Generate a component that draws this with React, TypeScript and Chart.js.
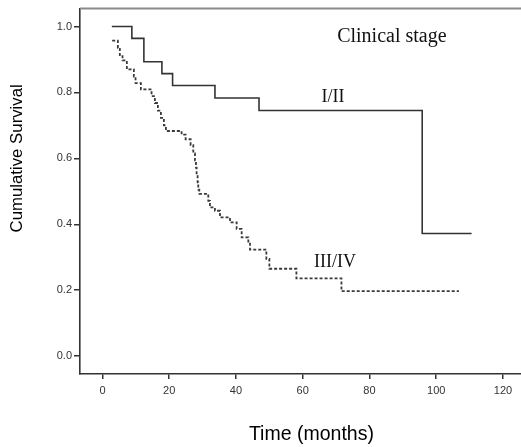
import React, { useEffect, useRef } from "react";
import { Chart, registerables } from "chart.js";

Chart.register(...registerables);

// Kaplan-Meier curve, stage I/II (time in months, cumulative survival)
const stage12Time = [2.8, 8.8, 12.4, 17.8, 21.0, 33.7, 46.9, 95.8, 110.6];
const stage12Surv = [1.0, 0.964, 0.893, 0.857, 0.821, 0.783, 0.745, 0.372, 0.372];

// Kaplan-Meier curve, stage III/IV
const stage34Time = [
  2.9, 4.6, 5.2, 6.0, 7.3, 9.4, 9.9, 11.5, 14.7, 15.7, 16.6, 17.5, 18.4, 19.0,
  23.7, 24.9, 26.4, 27.2, 27.7, 28.0, 28.2, 28.5, 28.7, 29.0, 31.7, 32.2, 33.7,
  35.2, 38.2, 40.2, 41.7, 43.7, 44.2, 49.1, 50.0, 58.1, 71.6, 106.8,
];
const stage34Surv = [
  0.957, 0.935, 0.913, 0.897, 0.87, 0.848, 0.828, 0.809, 0.789, 0.768, 0.745,
  0.723, 0.7, 0.683, 0.672, 0.658, 0.64, 0.615, 0.594, 0.572, 0.55, 0.527,
  0.505, 0.492, 0.471, 0.451, 0.441, 0.421, 0.406, 0.386, 0.36, 0.341, 0.323,
  0.295, 0.265, 0.236, 0.197, 0.197,
];

const xTicks = [0, 20, 40, 60, 80, 100, 120];
const yTicks = [0.0, 0.2, 0.4, 0.6, 0.8, 1.0];

const chartTitle = "Clinical stage";
const label12 = "I/II";
const label34 = "III/IV";
const xTitle = "Time (months)";
const yTitle = "Cumulative Survival";

const annotationPlugin = {
  id: "kmAnnotations",
  afterDraw(chart: any) {
    const ctx = chart.ctx;
    const xs = chart.scales.x;
    const ys = chart.scales.y;
    const area = chart.chartArea;
    ctx.save();
    // top border
    ctx.strokeStyle = "#8a8a8a";
    ctx.lineWidth = 2;
    ctx.beginPath();
    ctx.moveTo(area.left, area.top);
    ctx.lineTo(area.right, area.top);
    ctx.stroke();

    ctx.fillStyle = "#111";
    ctx.textAlign = "center";
    ctx.textBaseline = "middle";
    ctx.font = '20px "Liberation Serif", "Times New Roman", serif';
    ctx.fillText(chartTitle, xs.getPixelForValue(86.7), ys.getPixelForValue(0.97));
    ctx.font = '18px "Liberation Serif", "Times New Roman", serif';
    ctx.fillText(label12, xs.getPixelForValue(69.1), ys.getPixelForValue(0.784));
    ctx.fillText(label34, xs.getPixelForValue(69.7), ys.getPixelForValue(0.286));

    ctx.fillStyle = "#000";
    ctx.font = '19.5px "Liberation Sans", Arial, sans-serif';
    ctx.fillText(xTitle, xs.getPixelForValue(62.6), chart.height - 12);
    ctx.translate(17, ys.getPixelForValue(0.6));
    ctx.rotate(-Math.PI / 2);
    ctx.font = '16.8px "Liberation Sans", Arial, sans-serif';
    ctx.fillText(yTitle, 0, 0);
    ctx.restore();
  },
};

export default function App() {
  const canvasRef = useRef<HTMLCanvasElement>(null);

  useEffect(() => {
    const canvas = canvasRef.current;
    if (!canvas) return;
    const chart = new Chart(canvas, {
      type: "line",
      data: {
        datasets: [
          {
            label: label12,
            data: stage12Time.map((t, i) => ({ x: t, y: stage12Surv[i] })),
            stepped: true,
            borderColor: "#333333",
            borderWidth: 1.6,
            pointRadius: 0,
            fill: false,
          },
          {
            label: label34,
            data: stage34Time.map((t, i) => ({ x: t, y: stage34Surv[i] })),
            stepped: true,
            borderColor: "#3a3a3a",
            borderWidth: 1.8,
            borderDash: [3, 2],
            pointRadius: 0,
            fill: false,
          },
        ],
      },
      options: {
        animation: false,
        responsive: false,
        maintainAspectRatio: false,
        layout: { padding: { top: 7, right: 0, left: 0, bottom: 0 } },
        plugins: {
          legend: { display: false },
          tooltip: { enabled: false },
        },
        scales: {
          x: {
            type: "linear",
            min: -6.74,
            max: 125.4,
            afterBuildTicks: (scale: any) => {
              scale.ticks = xTicks.map((v) => ({ value: v }));
            },
            afterFit: (scale: any) => {
              scale.height = 73;
            },
            grid: {
              display: true,
              drawOnChartArea: false,
              drawTicks: true,
              tickLength: 5,
              color: "#333",
              lineWidth: 1.5,
            },
            border: { display: true, color: "#333", width: 1.6 },
            ticks: {
              color: "#333",
              padding: 5,
              maxRotation: 0,
              autoSkip: false,
              font: { family: '"Liberation Sans", Arial, sans-serif', size: 11 },
              callback: (v: any) => String(v),
            },
          },
          y: {
            type: "linear",
            min: -0.0544,
            max: 1.0544,
            afterBuildTicks: (scale: any) => {
              scale.ticks = yTicks.map((v) => ({ value: v }));
            },
            afterFit: (scale: any) => {
              scale.width = 80;
            },
            grid: {
              display: true,
              drawOnChartArea: false,
              drawTicks: true,
              tickLength: 6,
              color: "#333",
              lineWidth: 1.5,
            },
            border: { display: true, color: "#333", width: 1.6 },
            ticks: {
              color: "#333",
              padding: 2,
              autoSkip: false,
              font: { family: '"Liberation Sans", Arial, sans-serif', size: 11 },
              callback: (v: any) => Number(v).toFixed(1),
            },
          },
        },
      },
      plugins: [annotationPlugin],
    });
    return () => chart.destroy();
  }, []);

  return (
    <div style={{ position: "fixed", left: 0, top: 0, width: 521, height: 447, background: "#fff" }}>
      <canvas ref={canvasRef} width={521} height={447} style={{ display: "block" }} />
    </div>
  );
}
